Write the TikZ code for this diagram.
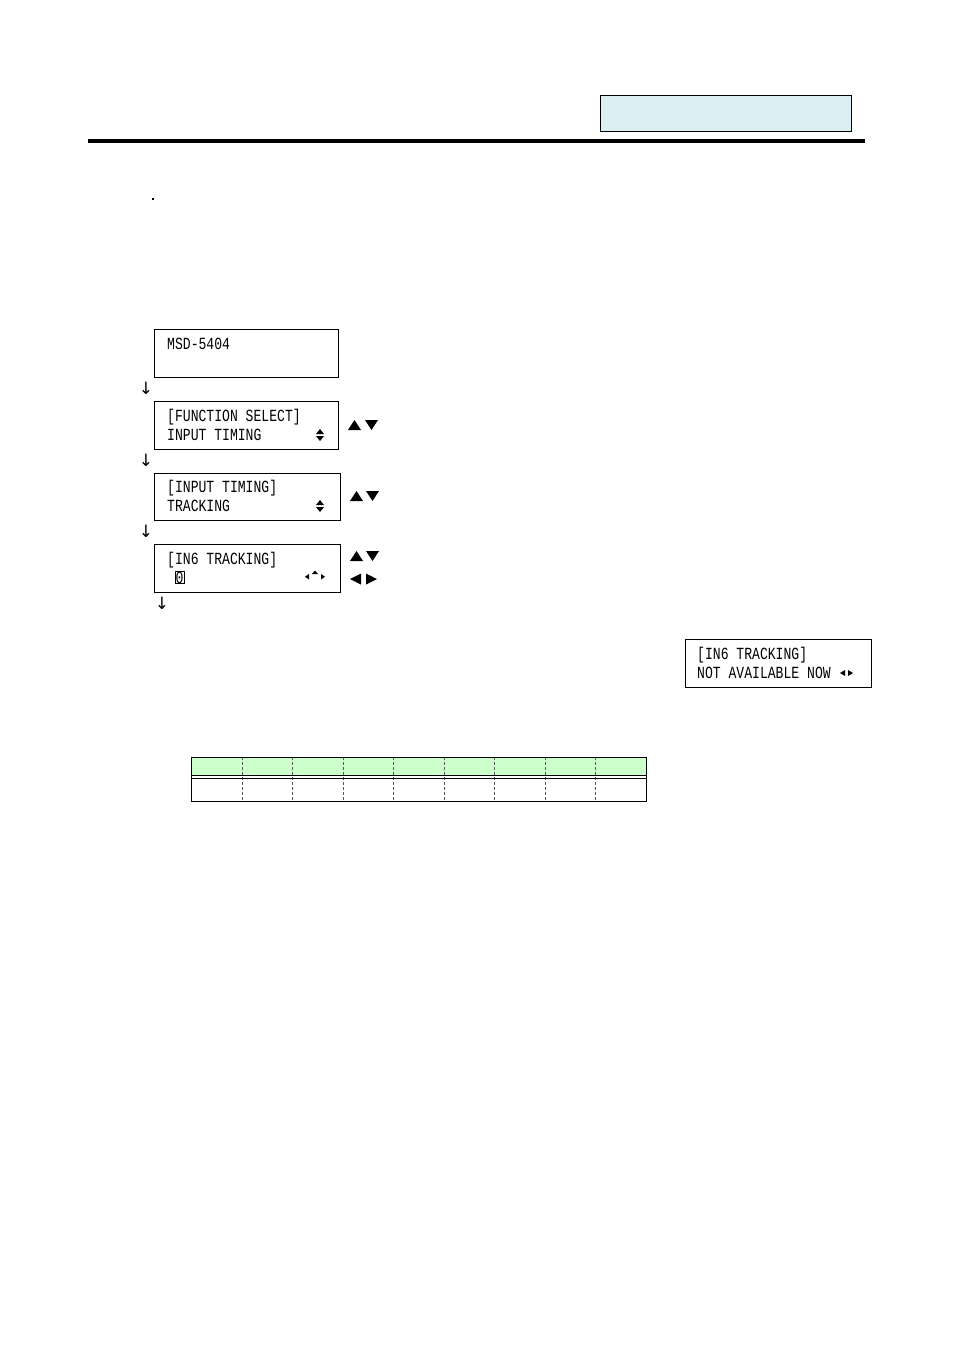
\documentclass[tikz,border=0pt]{standalone}
\usepackage{fontspec}
\usepackage{xcolor}
\newfontfamily\lcdfont[FakeStretch=0.77]{Liberation Mono}
\newfontfamily\symfont{DejaVu Sans}
\definecolor{headblue}{HTML}{DAEEF3}
\definecolor{headgreen}{HTML}{CCFFCC}
\tikzset{
  lcdbox/.style={draw=black, line width=0.8pt, anchor=north west, inner sep=0pt},
  lcdtext/.style={anchor=base west, inner sep=0pt, font=\lcdfont\fontsize{17}{19}\selectfont},
  downmark/.style={inner sep=0pt, font=\symfont\fontsize{17}{17}\selectfont},
  keytri/.style={fill=black},
}
\begin{document}
\begin{tikzpicture}[x=1pt, y=-1pt]
        \useasboundingbox (0,0) rectangle (954,1350);

        % header
        \fill[headblue] (600,95) rectangle (851,131);
        \draw[line width=0.8pt] (600,95) rectangle (851,131);
        \draw[line width=4pt] (88,141) -- (865,141);
        \fill (152,198) rectangle (154,200);

        % display screens
        \node[lcdbox, minimum width=184pt, minimum height=48pt] (msd) at (154,329) {};
        \node[lcdtext] (msdA) at ([shift={(13,20.5)}]msd.north west) {MSD-5404};
        \node[downmark] (dn1) at (146,388) {↓};

        \node[lcdbox, minimum width=184pt, minimum height=48pt] (funcsel) at (154,401) {};
        \node[lcdtext] (funcselA) at ([shift={(13,20.5)}]funcsel.north west) {[FUNCTION SELECT]};
        \node[lcdtext] (funcselB) at ([shift={(13,39.5)}]funcsel.north west) {INPUT TIMING};
        \fill (316,434) -- (324,434) -- (320,429) -- cycle;
        \fill (316,436) -- (324,436) -- (320,441) -- cycle;
        \fill[keytri] (348,430) -- (361,430) -- (354.5,420) -- cycle;
        \fill[keytri] (365,420) -- (378,420) -- (371.5,430) -- cycle;
        \node[downmark] (dn2) at (146,460) {↓};

        \node[lcdbox, minimum width=186pt, minimum height=47pt] (inptim) at (154,473) {};
        \node[lcdtext] (inptimA) at ([shift={(13,19.5)}]inptim.north west) {[INPUT TIMING]};
        \node[lcdtext] (inptimB) at ([shift={(13,38.5)}]inptim.north west) {TRACKING};
        \fill (316,505) -- (324,505) -- (320,500) -- cycle;
        \fill (316,507) -- (324,507) -- (320,512) -- cycle;
        \fill[keytri] (350,501) -- (363,501) -- (356.5,491) -- cycle;
        \fill[keytri] (366,491) -- (379,491) -- (372.5,501) -- cycle;
        \node[downmark] (dn3) at (146,531) {↓};

        \node[lcdbox, minimum width=186pt, minimum height=48pt] (trackin) at (154,544) {};
        \node[lcdtext] (trackinA) at ([shift={(13,20.5)}]trackin.north west) {[IN6 TRACKING]};
        \node[lcdtext, draw, line width=0.9pt, inner sep=0.6pt] (cursor) at (174.5,583) {0};
        \fill (309,574) -- (309,579.5) -- (305,576.75) -- cycle;
        \fill (312,574) -- (318,574) -- (315,570.5) -- cycle;
        \fill (321,574) -- (321,579.5) -- (325,576.75) -- cycle;
        \fill[keytri] (350,561) -- (363,561) -- (356.5,551) -- cycle;
        \fill[keytri] (366,551) -- (379,551) -- (372.5,561) -- cycle;
        \fill[keytri] (361,573.5) -- (361,584.5) -- (350,579) -- cycle;
        \fill[keytri] (366,573.5) -- (366,584.5) -- (377,579) -- cycle;
        \node[downmark] (dn4) at (162,603) {↓};

        \node[lcdbox, minimum width=186pt, minimum height=48pt] (notavail) at (685,639) {};
        \node[lcdtext] (notavailA) at ([shift={(12,20)}]notavail.north west) {[IN6 TRACKING]};
        \node[lcdtext] (notavailB) at ([shift={(12,39)}]notavail.north west) {NOT AVAILABLE NOW};
        \fill (845,670) -- (845,676) -- (840,673) -- cycle;
        \fill (848,670) -- (848,676) -- (853,673) -- cycle;

        % table
        \fill[headgreen] (191,757) rectangle (646,775);
        \foreach \x in {242,292,343,393,444,494,545,595}
          \draw[gray!70!black, densely dashed, line width=0.6pt] (\x,757) -- (\x,801);
        \draw[line width=0.8pt] (191,757) rectangle (646,801);
        \draw[line width=0.8pt] (191,775.5) -- (646,775.5);
        \draw[line width=0.8pt] (191,778) -- (646,778);
\end{tikzpicture}
\end{document}
